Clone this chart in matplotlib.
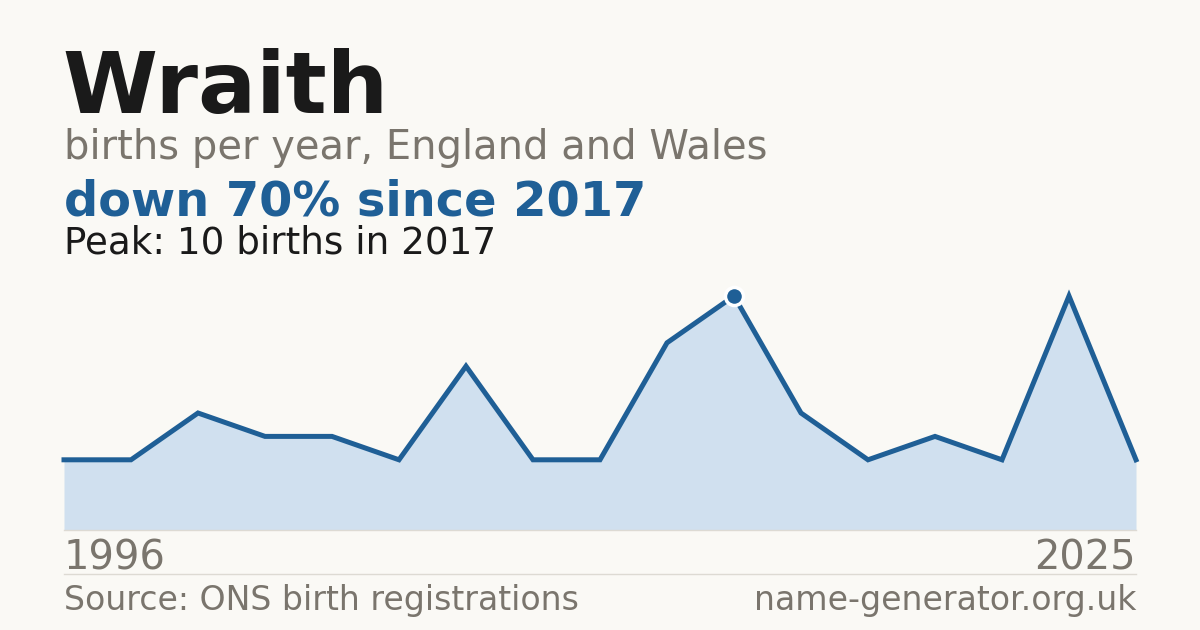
import matplotlib
matplotlib.use("Agg")
import matplotlib.pyplot as plt
from matplotlib.lines import Line2D

plt.rcParams["font.family"] = ["DejaVu Sans"]

# births per year (only years with reported counts)
years = [1996, 1998, 2000, 2002, 2004, 2006, 2008, 2010, 2012, 2015,
         2017, 2018, 2019, 2020, 2022, 2024, 2025]
births = [3, 3, 5, 4, 4, 3, 7, 3, 3, 8, 10, 5, 3, 4, 3, 10, 3]

title = "Wraith"
subtitle = "births per year, England and Wales"
headline = "down 70% since 2017"
peak_note = "Peak: 10 births in 2017"
source = "Source: ONS birth registrations"
site = "name-generator.org.uk"

bg = "#faf9f5"
blue = "#1f5f96"
fill = "#d0e0ef"
grey = "#7a756d"
dark = "#1a1a1a"

W, H = 1200, 630
fig = plt.figure(figsize=(W / 100, H / 100), dpi=100, facecolor=bg)

def fx(px):
    return px / W

def fy(py):
    return 1 - py / H

# chart area: x 64..1136, y 0 at 530, 10 at 296
ax = fig.add_axes([fx(64), fy(530), fx(1136 - 64), (530 - 296) / H])
ax.set_facecolor(bg)
xs = list(range(len(births)))
ax.fill_between(xs, births, 0, color=fill, lw=0)
ax.plot(xs, births, color=blue, lw=3.6, solid_joinstyle="miter", clip_on=False)
pk = births.index(max(births))
ax.plot(xs[pk], births[pk], "o", ms=13, color=blue, mec="white", mew=2.5,
        clip_on=False, zorder=5)
ax.set_xlim(0, len(births) - 1)
ax.set_ylim(0, max(births))
ax.axis("off")
ax.axhline(0, color="#dddad3", lw=1, clip_on=False)

fig.text(fx(62), fy(113), title, fontsize=62, fontweight="bold", color=dark, va="baseline")
fig.text(fx(64), fy(159), subtitle, fontsize=28.8, color=grey, va="baseline")
fig.text(fx(64), fy(215), headline, fontsize=34.5, fontweight="bold", color=blue, va="baseline")
fig.text(fx(64), fy(253), peak_note, fontsize=26.8, color=dark, va="baseline")

fig.text(fx(64), fy(569), str(years[0]), fontsize=28.8, color=grey, va="baseline")
fig.text(fx(1136), fy(569), str(years[-1]), fontsize=28.8, color=grey, va="baseline", ha="right")
fig.add_artist(Line2D([fx(64), fx(1136)], [fy(574), fy(574)], color="#dddad3", lw=1))
fig.text(fx(64), fy(610), source, fontsize=23.9, color=grey, va="baseline")
fig.text(fx(1136), fy(610), site, fontsize=23.9, color=grey, va="baseline", ha="right")

fig.savefig("out.png", dpi=100, facecolor=bg)
